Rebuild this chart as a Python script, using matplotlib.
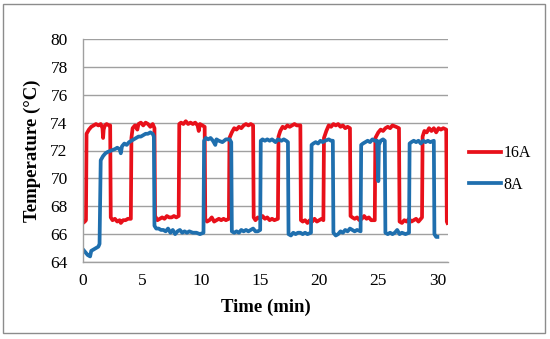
import matplotlib
matplotlib.use("Agg")
import matplotlib.pyplot as plt
from matplotlib.patches import Rectangle
import numpy as np

# (time in min, temperature in degC)
points_16a = [
    (0.0, 66.8), (0.15, 66.9), (0.25, 67.0), (0.3, 73.2), (0.5, 73.5), (0.7, 73.7),
    (0.9, 73.8), (1.1, 73.9), (1.3, 73.8), (1.5, 73.9), (1.65, 73.6), (1.7, 72.9),
    (1.75, 73.5), (1.85, 73.8), (2.0, 73.9), (2.2, 73.8), (2.3, 73.8), (2.35, 67.2),
    (2.5, 67.0), (2.7, 67.1), (2.9, 66.9), (3.1, 67.0), (3.2, 66.8), (3.4, 67.0),
    (3.6, 67.0), (3.8, 67.1), (4.05, 67.1), (4.1, 72.9), (4.2, 73.6), (4.4, 73.8),
    (4.6, 73.5), (4.7, 73.9), (4.9, 74.0), (5.1, 73.8), (5.3, 74.0), (5.5, 73.9),
    (5.7, 73.7), (5.9, 73.9), (6.05, 73.6), (6.1, 67.3), (6.3, 67.0), (6.5, 67.1),
    (6.7, 67.2), (6.9, 67.1), (7.1, 67.3), (7.3, 67.2), (7.5, 67.2), (7.7, 67.3),
    (7.9, 67.2), (8.1, 67.3), (8.15, 73.9), (8.3, 74.0), (8.5, 73.9), (8.7, 74.1),
    (8.9, 73.9), (9.1, 74.0), (9.3, 73.9), (9.5, 74.0), (9.7, 73.8), (9.8, 73.4),
    (9.9, 73.9), (10.1, 73.8), (10.3, 73.7), (10.35, 67.1), (10.5, 66.9), (10.7, 67.0),
    (10.9, 67.2), (11.1, 66.9), (11.3, 67.0), (11.5, 67.1), (11.7, 67.0), (11.9, 67.1),
    (12.1, 67.0), (12.35, 67.1), (12.4, 72.9), (12.6, 73.3), (12.8, 73.6), (13.0, 73.5),
    (13.2, 73.7), (13.4, 73.6), (13.6, 73.8), (13.8, 73.9), (14.0, 73.8), (14.2, 73.9),
    (14.4, 73.8), (14.45, 67.2), (14.6, 67.0), (14.8, 67.2), (15.0, 67.1), (15.2, 67.3),
    (15.4, 67.1), (15.6, 67.2), (15.8, 67.0), (16.0, 67.1), (16.2, 67.0), (16.5, 67.1),
    (16.55, 73.0), (16.7, 73.4), (16.9, 73.7), (17.1, 73.6), (17.3, 73.8), (17.5, 73.7),
    (17.7, 73.8), (17.9, 73.9), (18.1, 73.8), (18.4, 73.8), (18.45, 67.0), (18.6, 66.9),
    (18.8, 67.0), (19.0, 66.8), (19.2, 67.0), (19.4, 66.9), (19.6, 67.1), (19.8, 66.9),
    (20.0, 67.0), (20.2, 67.1), (20.35, 67.0), (20.4, 72.9), (20.6, 73.4), (20.8, 73.8),
    (21.0, 73.7), (21.2, 73.9), (21.4, 73.8), (21.6, 73.9), (21.8, 73.7), (22.0, 73.8),
    (22.2, 73.6), (22.4, 73.7), (22.6, 73.6), (22.65, 67.3), (22.8, 67.2), (23.0, 67.1),
    (23.2, 67.2), (23.4, 67.0), (23.6, 67.1), (23.8, 67.3), (24.0, 67.1), (24.2, 67.2),
    (24.4, 67.0), (24.7, 67.0), (24.75, 72.9), (25.0, 73.3), (25.2, 73.5), (25.4, 73.4),
    (25.6, 73.6), (25.8, 73.7), (26.0, 73.6), (26.2, 73.8), (26.5, 73.7), (26.75, 73.6),
    (26.8, 66.9), (27.0, 66.8), (27.2, 67.0), (27.4, 66.9), (27.6, 67.1), (27.8, 66.9),
    (28.0, 67.0), (28.2, 67.1), (28.4, 66.9), (28.7, 67.2), (28.75, 73.0), (28.9, 73.4),
    (29.1, 73.3), (29.3, 73.6), (29.5, 73.4), (29.7, 73.6), (29.9, 73.3), (30.1, 73.6),
    (30.3, 73.5), (30.5, 73.6), (30.75, 73.5), (30.8, 66.9), (30.85, 66.8),
]

points_8a = [
    (0.0, 64.9), (0.2, 64.7), (0.4, 64.5), (0.6, 64.4), (0.7, 64.8), (0.9, 64.9),
    (1.1, 65.0), (1.3, 65.1), (1.4, 65.3), (1.5, 71.3), (1.7, 71.6), (1.9, 71.8),
    (2.1, 71.9), (2.4, 72.0), (2.7, 72.1), (2.9, 72.2), (3.1, 72.1), (3.2, 71.8),
    (3.3, 72.3), (3.5, 72.5), (3.7, 72.4), (3.9, 72.6), (4.1, 72.7), (4.3, 72.8),
    (4.5, 72.9), (4.7, 73.0), (4.9, 73.0), (5.1, 73.1), (5.3, 73.2), (5.5, 73.2),
    (5.7, 73.3), (5.9, 73.2), (6.0, 73.0), (6.05, 66.6), (6.2, 66.4), (6.4, 66.4),
    (6.6, 66.3), (6.8, 66.3), (7.0, 66.2), (7.2, 66.4), (7.4, 66.1), (7.6, 66.3),
    (7.8, 66.0), (8.0, 66.2), (8.2, 66.3), (8.4, 66.1), (8.6, 66.2), (8.8, 66.1),
    (9.0, 66.2), (9.3, 66.1), (9.6, 66.1), (9.9, 66.0), (10.2, 66.1), (10.25, 72.7),
    (10.4, 72.9), (10.6, 72.8), (10.8, 72.9), (11.0, 72.7), (11.2, 72.4), (11.3, 72.8),
    (11.5, 72.7), (11.8, 72.6), (12.1, 72.8), (12.4, 72.8), (12.55, 72.6), (12.6, 66.2),
    (12.8, 66.1), (13.0, 66.2), (13.2, 66.1), (13.4, 66.3), (13.6, 66.2), (13.8, 66.3),
    (14.0, 66.2), (14.2, 66.3), (14.4, 66.4), (14.6, 66.2), (14.8, 66.2), (15.0, 66.3),
    (15.05, 72.7), (15.2, 72.8), (15.4, 72.7), (15.6, 72.8), (15.8, 72.7), (16.0, 72.8),
    (16.3, 72.6), (16.5, 72.8), (16.8, 72.7), (17.0, 72.8), (17.2, 72.7), (17.35, 72.6),
    (17.4, 66.0), (17.6, 65.9), (17.8, 66.1), (18.0, 66.0), (18.2, 66.1), (18.4, 66.1),
    (18.6, 66.0), (18.8, 66.1), (19.0, 66.0), (19.3, 66.1), (19.35, 72.4), (19.5, 72.5),
    (19.7, 72.6), (19.9, 72.5), (20.1, 72.7), (20.3, 72.6), (20.5, 72.7), (20.8, 72.8),
    (21.0, 72.7), (21.15, 72.7), (21.2, 66.1), (21.4, 65.9), (21.6, 66.0), (21.8, 66.2),
    (22.0, 66.1), (22.2, 66.3), (22.4, 66.2), (22.6, 66.4), (22.8, 66.3), (23.0, 66.2),
    (23.2, 66.3), (23.5, 66.2), (23.55, 72.4), (23.7, 72.5), (23.9, 72.6), (24.1, 72.7),
    (24.3, 72.6), (24.5, 72.8), (24.7, 72.7), (24.9, 72.7), (25.0, 69.8), (25.05, 72.4),
    (25.2, 72.7), (25.4, 72.8), (25.55, 72.7), (25.6, 66.1), (25.8, 66.0), (26.0, 66.1),
    (26.2, 66.0), (26.4, 66.1), (26.6, 66.3), (26.8, 66.0), (27.0, 66.1), (27.3, 66.0),
    (27.6, 66.1), (27.65, 72.5), (27.8, 72.6), (28.0, 72.7), (28.2, 72.6), (28.4, 72.7),
    (28.6, 72.5), (28.8, 72.7), (29.0, 72.6), (29.2, 72.7), (29.4, 72.6), (29.7, 72.7),
    (29.75, 66.0), (29.9, 65.8), (30.0, 65.8),
]

series_labels = ["16A", "8A"]
x_ticks = [0, 5, 10, 15, 20, 25, 30]
y_ticks = [64, 66, 68, 70, 72, 74, 76, 78, 80]

plt.rcParams['font.family'] = ['Liberation Serif', 'DejaVu Serif']

fig = plt.figure(figsize=(5.5, 3.39), dpi=100)
ax = fig.add_axes([83/550, 1 - 262/339, 365/550, 223/339])

t16, v16 = np.array(points_16a).T
t8, v8 = np.array(points_8a).T
ax.plot(t16, v16, color='#e8101a', lw=2.7, label=series_labels[0], solid_joinstyle='round')
ax.plot(t8, v8, color='#1f6fae', lw=2.7, label=series_labels[1], solid_joinstyle='round')

ax.set_xlim(0, 30.9)
ax.set_ylim(64, 80)
ax.set_xticks(x_ticks)
ax.set_yticks(y_ticks)
ax.tick_params(length=0, labelsize=12.5)
ax.tick_params(axis='x', pad=8)
ax.tick_params(axis='y', pad=11)
ax.grid(axis='y', color='#a0a0a0', lw=1)
ax.set_axisbelow(True)
for s in ['top', 'right']:
    ax.spines[s].set_visible(False)
for s in ['left', 'bottom']:
    ax.spines[s].set_color('#a0a0a0')
    ax.spines[s].set_linewidth(1)

ax.set_xlabel('Time (min)', fontsize=13.5, fontweight='bold', labelpad=7)
ax.set_ylabel('Temperature (°C)', fontsize=13.5, fontweight='bold', labelpad=7)

ax.legend(loc='center left', bbox_to_anchor=(455/550, 1 - 169/339),
          bbox_transform=fig.transFigure, frameon=False, fontsize=11.5,
          handlelength=2.0, handletextpad=0.15, labelspacing=0.95)

fig.patches.append(Rectangle((3/550, 1 - 333/339), 542/550, 329/339,
                             transform=fig.transFigure, fill=False,
                             edgecolor='#8c8c8c', lw=1))

fig.savefig('out.png', dpi=100)
